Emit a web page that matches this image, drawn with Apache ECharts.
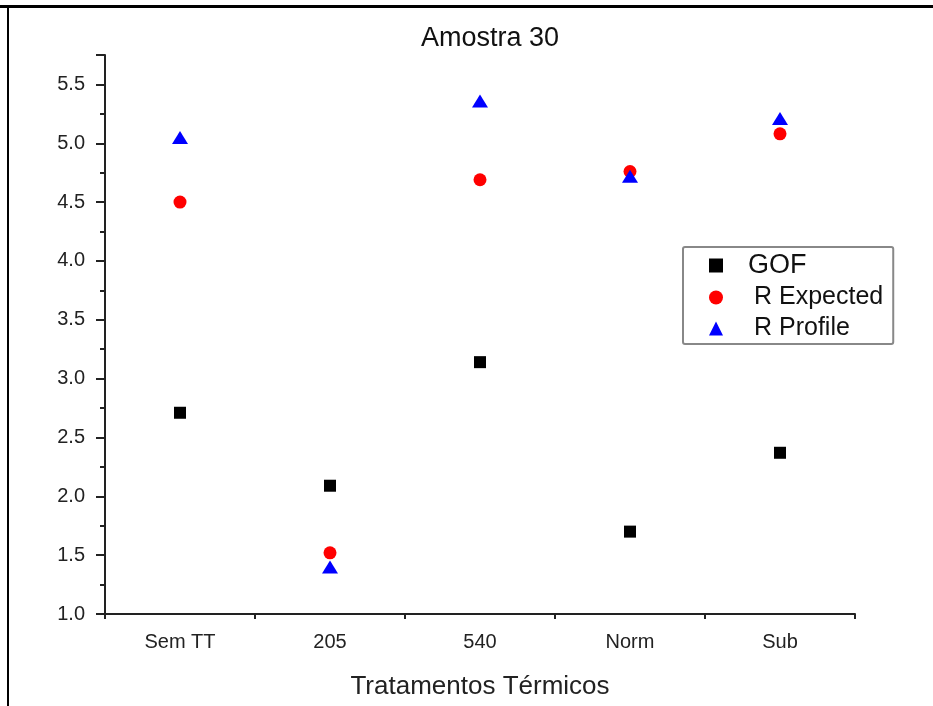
<!DOCTYPE html>
<html>
<head>
<meta charset="utf-8">
<script src="https://cdn.jsdelivr.net/npm/echarts@6/dist/echarts.min.js"></script>
<style>html,body{margin:0;padding:0;background:#fff;}#c{width:933px;height:706px;}</style>
</head>
<body>
<div id="c"></div>
<script>
const categories = ['Sem TT', '205', '540', 'Norm', 'Sub'];
const gof = [2.71, 2.09, 3.14, 1.70, 2.37];
const rExpected = [4.50, 1.52, 4.69, 4.76, 5.08];
const rProfile = [5.05, 1.40, 5.36, 4.72, 5.21];
const yTicks = [1.0, 1.5, 2.0, 2.5, 3.0, 3.5, 4.0, 4.5, 5.0, 5.5];

const FONT = 'Liberation Sans, Arial, sans-serif';
const chart = echarts.init(document.getElementById('c'));
const option = {
  backgroundColor: '#fff',
  animation: false,
  title: {
    text: 'Amostra 30', left: 485, top: 20, textAlign: 'center',
    textStyle: { fontFamily: FONT, fontSize: 27, fontWeight: 'normal', color: '#111' }
  },
  grid: { left: 105, right: 78, top: 55, bottom: 92, containLabel: false },
  legend: {
    orient: 'vertical', left: 683, top: 247,
    padding: [5, 10, 3, 26], itemGap: 6, itemWidth: 14, itemHeight: 14,
    borderColor: '#888', borderWidth: 2, borderRadius: 2, backgroundColor: '#fff',
    textStyle: { fontFamily: FONT, fontSize: 25, color: '#111', padding: [0, 0, 0, 26] },
    data: [
      { name: 'GOF', textStyle: { fontSize: 27, padding: [0, 0, 0, 20] } },
      { name: 'R Expected' },
      { name: 'R Profile' }
    ]
  },
  xAxis: [{
    type: 'category', data: categories, boundaryGap: true,
    axisLine: { lineStyle: { color: '#222', width: 2 } },
    axisTick: { alignWithLabel: true, length: 9, lineStyle: { color: '#222', width: 2 } },
    axisLabel: { fontFamily: FONT, fontSize: 20, color: '#222', margin: 18 },
    name: 'Tratamentos Térmicos', nameLocation: 'middle', nameGap: 60,
    nameTextStyle: { fontFamily: FONT, fontSize: 26, color: '#222' },
    splitLine: { show: false }
  }, {
    type: 'category', data: categories, boundaryGap: true, position: 'bottom',
    axisLine: { show: false },
    axisTick: { show: true, length: 5, lineStyle: { color: '#222', width: 2 } },
    axisLabel: { show: false }, splitLine: { show: false }
  }],
  yAxis: {
    type: 'value', min: 1.0, max: 5.75, interval: 0.5,
    axisLine: { show: true, lineStyle: { color: '#222', width: 2 } },
    axisTick: { show: true, length: 9, lineStyle: { color: '#222', width: 2 } },
    minorTick: { show: true, splitNumber: 2, length: 5, lineStyle: { color: '#222', width: 2 } },
    axisLabel: {
      fontFamily: FONT, fontSize: 20, color: '#222', margin: 20,
      formatter: v => (yTicks.some(t => Math.abs(t - v) < 1e-9) ? v.toFixed(1) : '')
    },
    splitLine: { show: false }
  },
  series: [
    { name: 'GOF', type: 'scatter', data: gof, symbol: 'rect', symbolSize: 12,
      itemStyle: { color: '#000', opacity: 1 } },
    { name: 'R Expected', type: 'scatter', data: rExpected, symbol: 'circle', symbolSize: 13,
      itemStyle: { color: '#ff0000', opacity: 1 } },
    { name: 'R Profile', type: 'scatter', data: rProfile, symbol: 'triangle', symbolSize: [16, 13],
      itemStyle: { color: '#0000ff', opacity: 1 } }
  ],
  graphic: [
    { type: 'line', shape: { x1: 0, y1: 6.5, x2: 933, y2: 6.5 }, style: { stroke: '#000', lineWidth: 3 } },
    { type: 'line', shape: { x1: 8, y1: 5, x2: 8, y2: 706 }, style: { stroke: '#000', lineWidth: 2 } }
  ]
};
chart.setOption(option);
</script>
</body>
</html>
